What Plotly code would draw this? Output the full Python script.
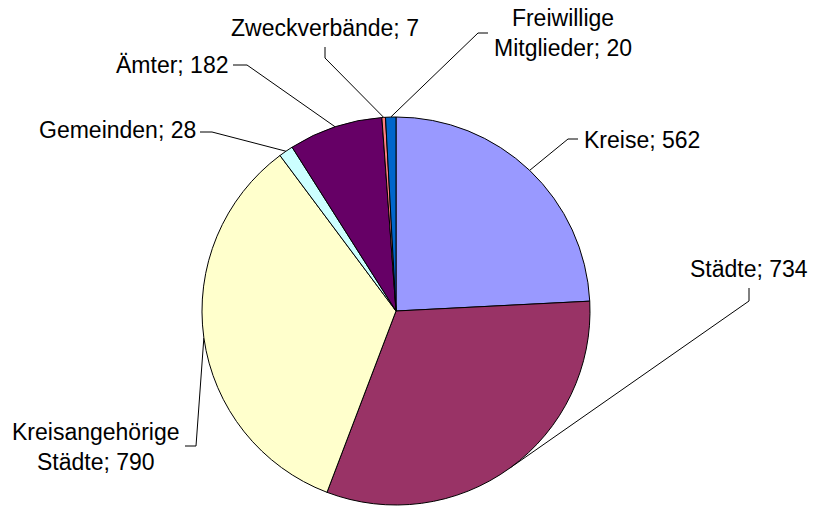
import math
import plotly.graph_objects as go

categories = ["Kreise", "Städte", "Kreisangehörige<br>Städte", "Gemeinden", "Ämter",
              "Zweckverbände", "Freiwillige<br>Mitglieder"]
values = [562, 734, 790, 28, 182, 7, 20]
colors = ["#9999FF", "#993366", "#FFFFCC", "#CCFFFF", "#660066", "#FF8080", "#0066CC"]

W, H = 813, 507
CX, CY, R = 396, 311, 194

# label layout: elbow point, end point, text position, text anchor
label_layout = [
    dict(elbow=(568, 139), end=(578, 139), text=(582, 140), xanchor="left"),
    dict(elbow=(749, 301), end=(749, 288), text=(749, 269), xanchor="center"),
    dict(elbow=(196, 446), end=(185, 446), text=(96, 447), xanchor="center"),
    dict(elbow=(212, 132), end=(200, 132), text=(198, 130), xanchor="right"),
    dict(elbow=(247, 65), end=(233, 65), text=(231, 65), xanchor="right"),
    dict(elbow=(325, 58), end=(325, 47), text=(325, 28), xanchor="center"),
    dict(elbow=(478, 33), end=(488, 33), text=(563, 33), xanchor="center"),
]

fig = go.Figure()
fig.add_trace(go.Pie(
    labels=categories, values=values, sort=False, direction="clockwise", rotation=0,
    marker=dict(colors=colors, line=dict(color="black", width=1)),
    textinfo="none", hoverinfo="label+value", showlegend=False,
    domain=dict(x=[(CX - R) / W, (CX + R) / W], y=[1 - (CY + R) / H, 1 - (CY - R) / H]),
))

total = sum(values)
cum = 0
annotations = []
for cat, v, lay in zip(categories, values, label_layout):
    mid = (cum + v / 2) / total * 2 * math.pi
    cum += v
    sx = CX + R * math.sin(mid)
    sy = CY - R * math.cos(mid)
    fig.add_trace(go.Scatter(
        x=[sx, lay["elbow"][0], lay["end"][0]], y=[sy, lay["elbow"][1], lay["end"][1]],
        mode="lines", line=dict(color="black", width=1), hoverinfo="skip", showlegend=False,
    ))
    annotations.append(dict(
        x=lay["text"][0], y=lay["text"][1], xref="x", yref="y", text=f"{cat}; {v}",
        showarrow=False, xanchor=lay["xanchor"], yanchor="middle", align="center",
        font=dict(family="Arial, Liberation Sans, sans-serif", size=23, color="black"),
    ))

fig.update_layout(
    width=W, height=H, margin=dict(l=0, r=0, t=0, b=0),
    paper_bgcolor="white", plot_bgcolor="rgba(0,0,0,0)",
    xaxis=dict(range=[0, W], visible=False, fixedrange=True),
    yaxis=dict(range=[H, 0], visible=False, fixedrange=True),
    annotations=annotations,
)
fig.write_html("out.html", post_script="document.body.style.margin='0';",
               config={"displayModeBar": False})
